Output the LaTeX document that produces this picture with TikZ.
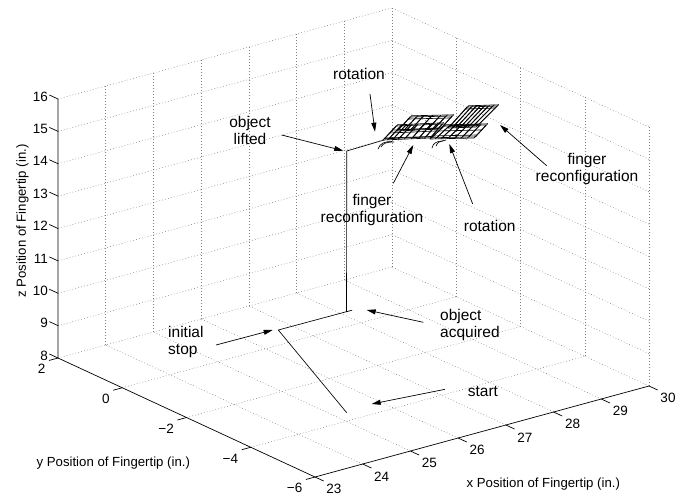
\documentclass[tikz,border=0pt]{standalone}
\usepackage{fontspec}
\setmainfont{Liberation Sans}
\usetikzlibrary{arrows.meta,calc}
\tikzset{
  grd/.style={black!50, line width=0.5pt, dash pattern=on 0.8pt off 2.2pt},
  axl/.style={black, line width=0.7pt},
  traj/.style={black, line width=0.65pt, line join=round, line cap=round},
  arr/.style={black, line width=0.7pt, -{Triangle[length=9pt,width=5pt]}},
  ticklab/.style={inner sep=0pt, font=\fontsize{13.5}{16}\selectfont},
  axlab/.style={inner sep=0pt, font=\fontsize{13.2}{16}\selectfont},
  ann/.style={inner sep=0pt, font=\fontsize{15.5}{17}\selectfont},
  annc/.style={ann, align=center},
  annl/.style={ann, align=left, anchor=west},
}
\newcommand\msheet[5]{%
  \foreach \t in {#5} {\draw[traj] ($#1!\t!#2$) -- ($#3!\t!#4$);}
  \draw[traj] #1 -- #2;
  \draw[traj] #3 -- #4;
}
\begin{document}
\begin{tikzpicture}[x=1pt,y=1pt]
\useasboundingbox (0,0) rectangle (689,-496);
% ---------- 3D box, grid and axes ----------
\begin{scope}[shift={(58pt,-358pt)}, x={(47.714pt,13pt)}, y={(-32.125pt,14.875pt)}, z={(0pt,32.375pt)}]
  % floor
  \foreach \i in {1,...,7} \draw[grd] (\i,-8,0) -- (\i,0,0);
  \foreach \j in {-6,-4,-2,0} \draw[grd] (0,\j,0) -- (7,\j,0);
  % back wall
  \foreach \i in {1,...,7} \draw[grd] (\i,0,0) -- (\i,0,8);
  \foreach \k in {1,...,8} \draw[grd] (0,0,\k) -- (7,0,\k);
  % side wall
  \foreach \j in {-8,-6,-4,-2} \draw[grd] (7,\j,0) -- (7,\j,8);
  \foreach \k in {1,...,8} \draw[grd] (7,-8,\k) -- (7,0,\k);
  % axes
  \draw[axl] (0,0,8) -- (0,0,0) -- (0,-8,0) -- (7,-8,0);
  \foreach \k in {0,...,8} \draw[axl] (0,0,\k) -- (0,0.27,\k);
  \foreach \j in {0,-2,-4,-6,-8} \draw[axl] (0,\j,0) -- (-0.19,\j,0);
  \foreach \i in {0,...,7} \draw[axl] (\i,-8,0) -- (\i,-8.27,0);
\end{scope}
% ---------- tick labels ----------
\foreach \k in {0,...,8} {
  \pgfmathtruncatemacro\lab{8+\k}
  \node[ticklab, anchor=east] (zt\k) at (48, {-(358-32.375*\k-2.5)}) {\lab};
}
\foreach \Y/\t [count=\n] in {2/2, 0/0, -2/{−2}, -4/{−4}, -6/{−6}} {
  \node[ticklab, anchor=east] (yt\n) at ({58-32.125*(\Y-2)-12.5}, {-(358-14.875*(\Y-2))-11.2}) {\t};
}
\foreach \X in {23,...,30} {
  \node[ticklab] (xt\X) at ({315+47.714*(\X-23)+19}, {-(477-13*(\X-23))-12.3}) {\X};
}
% ---------- axis labels ----------
\node[axlab, anchor=base] (xl) at (543.3,-487) {x Position of Fingertip (in.)};
\node[axlab, anchor=base] (yl) at (113.3,-466.7) {y Position of Fingertip (in.)};
\node[axlab, anchor=base, rotate=90] (zl) at (26,-221) {z Position of Fingertip (in.)};
% ---------- trajectory ----------
\coordinate (S) at (346.7,-412.7);
\coordinate (I) at (278.3,-330);
\coordinate (Ae) at (352,-310.2);
\coordinate (A) at (346.5,-311.8);
\coordinate (L) at (346.8,-151);
\coordinate (M) at (384,-140);
\draw[traj] (S) -- (I) -- (Ae) -- (A) -- (L) -- (M);
% manipulation loops
\foreach \dx/\dy in {0/0, 1.6/1.2} {
\begin{scope}[shift={(\dx pt,\dy pt)}]
\msheet{(383,-140)}{(430,-138)}{(396,-126)}{(442,-124)}{0,0.1,0.2,0.32,0.45,0.6,0.75,0.88,1}
\msheet{(397,-131)}{(440,-129)}{(410,-117)}{(452,-116)}{0,0.15,0.3,0.5,0.7,0.85,1}
\msheet{(430,-139)}{(474,-138)}{(444,-126)}{(486,-125)}{0,0.12,0.25,0.4,0.55,0.7,0.85,1}
\msheet{(448,-128)}{(476,-127)}{(467,-107)}{(497,-106)}{0,0.14,0.28,0.42,0.56,0.7,0.85,1}
\end{scope}
}
\draw[traj] (385,-138) -- (431,-136.5);
\draw[traj] (389,-133) -- (436,-131);
\draw[traj] (392,-130) -- (439,-128.5);
\draw[traj] (432,-136) -- (477,-135);
\draw[traj] (437,-131) -- (481,-130);
\draw[traj] (450,-125.5) -- (478,-124.5);
\draw[traj] (408,-119) -- (450,-118);
\draw[traj] (465,-109) -- (495,-108);
\draw[traj] (378,-149) .. controls (380,-143) and (385,-141.5) .. (392,-141.5);
\draw[traj] (381,-147) .. controls (383,-143) and (387,-142) .. (394,-142);
\draw[traj] (432,-148) .. controls (433,-143) and (437,-141) .. (443,-141);
\draw[traj] (436,-146) .. controls (438,-142) .. (446,-140);
% ---------- annotations ----------
\node[ann, anchor=base] (rot1) at (359,-79) {rotation};
\node[ann, anchor=base] (rot2) at (489.7,-231.7) {rotation};
\node[annc] (lift) at (250,-132.6) {\strut object\\lifted\strut};
\node[annc] (frR) at (587,-169.1) {\strut finger\\reconfiguration\strut};
\node[annc] (frM) at (372,-210.1) {\strut finger\\reconfiguration\strut};
\node[annl] (ist) at (168,-342.4) {\strut initial\\stop\strut};
\node[annl] (oac) at (440,-325.1) {\strut object\\acquired\strut};
\node[ann, anchor=base west] (st) at (467.7,-396.7) {start};
% arrows
\coordinate (liftT) at (281.7,-135);   \coordinate (liftH) at (343.3,-150.7);
\coordinate (rot1T) at (370,-94);      \coordinate (rot1H) at (375,-131.7);
\coordinate (frMT) at (393.3,-183.3);  \coordinate (frMH) at (413.3,-145);
\coordinate (rot2T) at (472.7,-204);   \coordinate (rot2H) at (449.3,-144);
\coordinate (frRT) at (546.7,-165.7);  \coordinate (frRH) at (500,-125);
\coordinate (istT) at (216,-345);      \coordinate (istH) at (272.7,-330);
\coordinate (oacT) at (423.3,-322.3);  \coordinate (oacH) at (366.7,-310);
\coordinate (stT) at (445,-389.3);     \coordinate (stH) at (371.7,-404);
\draw[arr] (liftT) -- (liftH);
\draw[arr] (rot1T) -- (rot1H);
\draw[arr] (frMT) -- (frMH);
\draw[arr] (rot2T) -- (rot2H);
\draw[arr] (frRT) -- (frRH);
\draw[arr] (istT) -- (istH);
\draw[arr] (oacT) -- (oacH);
\draw[arr] (stT) -- (stH);
\end{tikzpicture}
\end{document}
